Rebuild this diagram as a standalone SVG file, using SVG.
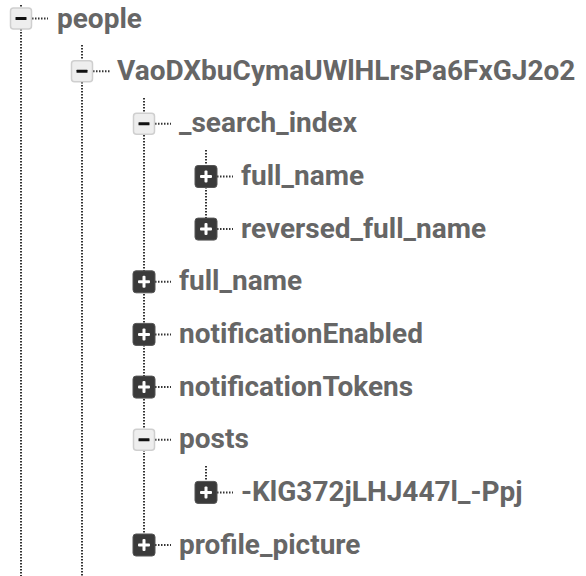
<svg xmlns="http://www.w3.org/2000/svg" width="586" height="576" viewBox="0 0 586 576">
<style>
.t{font-family:Roboto,"Liberation Sans",sans-serif;font-weight:700;font-size:28px;fill:#666}
.c{stroke:#333;stroke-width:2;stroke-dasharray:1.5 1.5;fill:none}
.mb{fill:#eee;stroke:#cfcfcf;stroke-width:1.5}
.pb{fill:#3a3a3a;stroke:#555;stroke-width:1}
.bar{fill:#111}
.pl{fill:#fff}
</style>
<defs>
<g id="minus"><rect class="mb" x="-10.5" y="-10.5" width="21" height="21" rx="3"/><rect class="bar" x="-5.5" y="-1.5" width="11" height="3" rx="0.5"/></g>
<g id="plus"><rect class="pb" x="-11" y="-11" width="22" height="22" rx="3"/><rect class="pl" x="-6" y="-1.5" width="12" height="3" rx="1"/><rect class="pl" x="-1.5" y="-6" width="3" height="12" rx="1"/></g>
</defs>
<g id="connectors">
<path class="c" d="M21 5V8M21 29V576"/>
<path class="c" d="M82 45V60M82 82V576"/>
<path class="c" d="M144 98V113M144 135V534"/>
<path class="c" d="M206 150V165M206 187V218"/>
<path class="c" d="M206 466V481"/>
<path class="c" d="M32 18.5H48M93 71.2H110M155 123.8H171M217 176.5H233M217 229.1H233M155 281.8H171M155 334.4H171M155 387.1H171M155 439.7H171M217 492.4H233M155 545H171"/>
</g>
<g id="n-people"><use href="#minus" x="21" y="18.5"/><text class="t" x="57" y="27.5">people</text></g>
<g id="n-vao"><use href="#minus" x="82" y="71.2"/><text class="t" x="117" y="79.7">VaoDXbuCymaUWlHLrsPa6FxGJ2o2</text></g>
<g id="n-search"><use href="#minus" x="144" y="123.8"/><text class="t" x="179" y="132.3">_search_index</text></g>
<g id="n-si-full"><use href="#plus" x="206" y="176.5"/><text class="t" x="241" y="185">full_name</text></g>
<g id="n-si-rev"><use href="#plus" x="206" y="229.1"/><text class="t" x="241" y="237.6">reversed_full_name</text></g>
<g id="n-full"><use href="#plus" x="144" y="281.8"/><text class="t" x="179" y="290.3">full_name</text></g>
<g id="n-ne"><use href="#plus" x="144" y="334.4"/><text class="t" x="179" y="342.9">notificationEnabled</text></g>
<g id="n-nt"><use href="#plus" x="144" y="387.1"/><text class="t" x="179" y="395.6">notificationTokens</text></g>
<g id="n-posts"><use href="#minus" x="144" y="439.7"/><text class="t" x="179" y="448.2">posts</text></g>
<g id="n-post"><use href="#plus" x="206" y="492.4"/><text class="t" x="241" y="500.9">-KlG372jLHJ447l_-Ppj</text></g>
<g id="n-pp"><use href="#plus" x="144" y="545"/><text class="t" x="179" y="553.5">profile_picture</text></g>
</svg>
